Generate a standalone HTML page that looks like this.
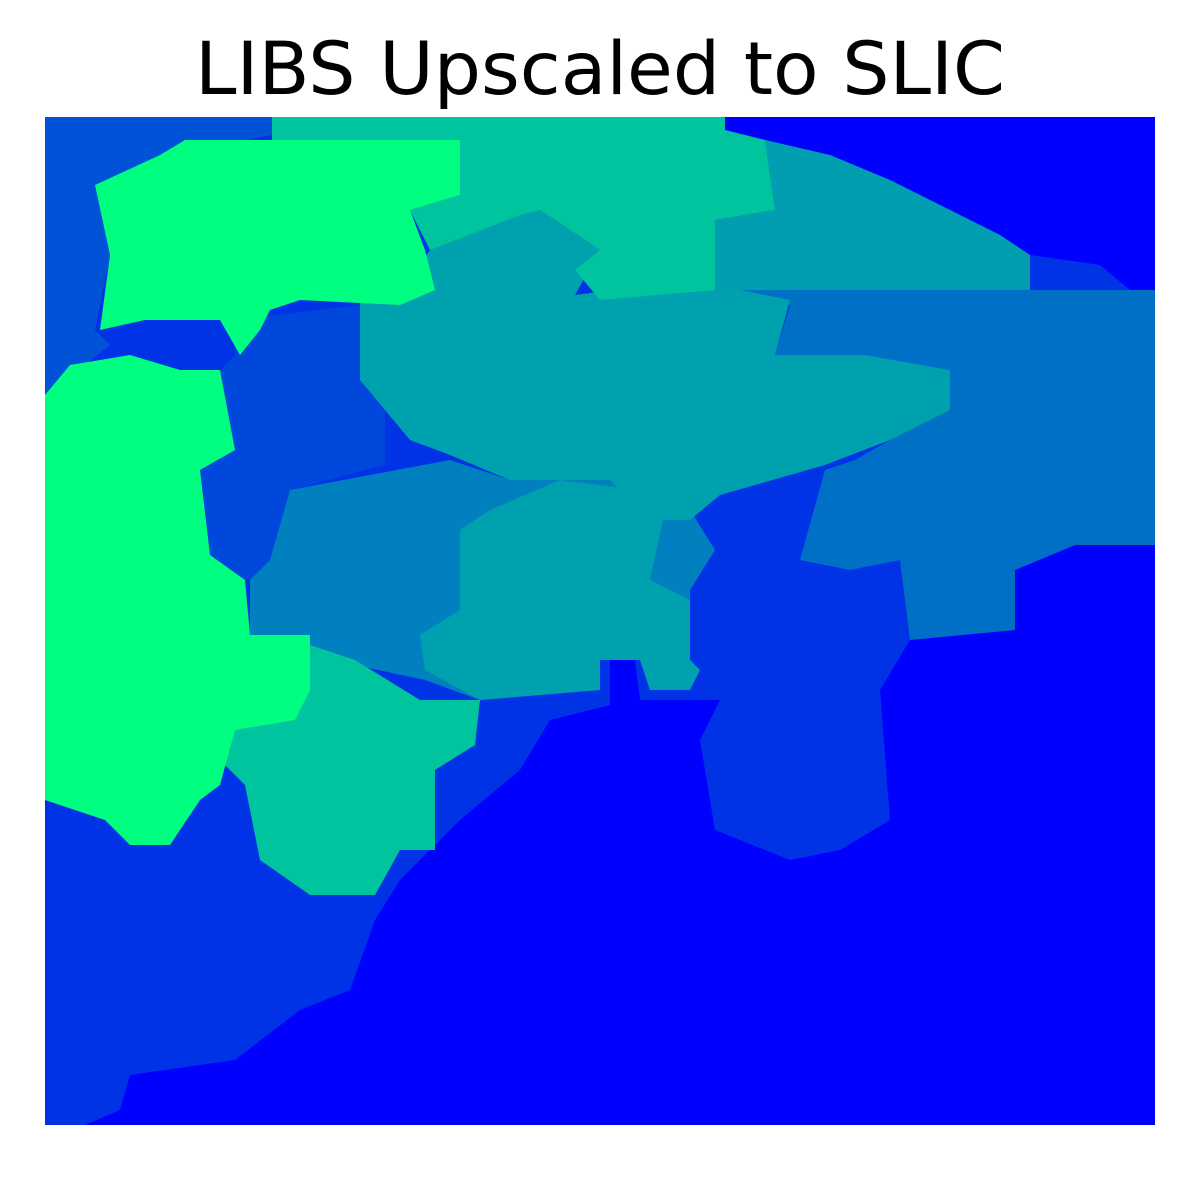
<!DOCTYPE html>
<html><head><meta charset="utf-8"><style>
html,body{margin:0;padding:0;background:#fff;width:1200px;height:1200px;overflow:hidden}
</style></head><body>
<svg id="chart" width="1200" height="1200" viewBox="0 0 1200 1200" xmlns="http://www.w3.org/2000/svg">
<text x="600" y="94" text-anchor="middle" font-family="DejaVu Sans, Liberation Sans, sans-serif" font-size="73" textLength="810" lengthAdjust="spacingAndGlyphs" fill="#000">LIBS Upscaled to SLIC</text>
<g id="map"></g>
</svg>
<script>
// segment values (winter colormap, 0 = blue, 1 = green)
const segmentNames = ["background","lower-band","left-top","mid-left","right-mid","center-mid","teal-upper","teal-right","teal-center","sea-top","sea-lower","green-top","green-left"];
const segmentValues = [0.0, 0.20, 0.32, 0.28, 0.44, 0.50, 0.63, 0.62, 0.63, 0.77, 0.77, 1.0, 1.0];
// outlines in image pixel coordinates
const segmentOutlines = [
 [[45,117],[1155,117],[1155,1125],[45,1125]],
 [[45,117],[725,117],[725,130],[765,140],[830,155],[890,180],[950,210],[1000,235],[1030,255],[1100,265],[1130,290],[1155,290],[1155,545],[1075,545],[1015,570],[1015,630],[910,640],[880,690],[890,820],[840,850],[790,860],[715,830],[700,740],[720,700],[640,700],[635,660],[610,660],[610,705],[550,720],[520,770],[460,820],[400,880],[375,920],[350,990],[300,1010],[235,1060],[130,1075],[120,1110],[85,1125],[45,1125]],
 [[45,117],[272,117],[272,135],[160,155],[95,185],[110,255],[95,330],[110,345],[60,385],[45,395]],
 [[235,320],[360,305],[360,380],[385,410],[385,465],[290,490],[270,560],[260,580],[235,580],[210,555],[200,470],[235,450],[220,370],[235,355]],
 [[690,290],[1155,290],[1155,545],[1075,545],[1015,570],[1015,630],[910,640],[900,560],[850,570],[800,560],[825,470],[855,460],[890,440],[950,395],[950,370],[865,355],[775,355],[790,305]],
 [[290,490],[450,460],[510,480],[610,480],[650,500],[690,510],[715,550],[690,590],[690,690],[650,690],[640,660],[600,660],[600,690],[480,700],[425,680],[355,665],[310,645],[250,635],[250,580],[270,560]],
 [[360,300],[400,290],[430,250],[410,210],[540,210],[600,250],[575,295],[690,280],[790,300],[775,355],[865,355],[950,370],[950,410],[890,440],[825,465],[720,495],[690,520],[650,520],[610,480],[510,480],[450,455],[410,440],[385,410],[360,380]],
 [[765,140],[830,155],[890,180],[950,210],[1000,235],[1030,255],[1030,290],[690,290],[715,220],[775,210]],
 [[460,530],[490,510],[560,480],[640,490],[665,510],[650,580],[690,600],[690,660],[700,670],[690,690],[650,690],[640,660],[600,660],[600,690],[480,700],[425,670],[420,635],[460,610]],
 [[272,117],[725,117],[725,130],[765,140],[775,210],[715,220],[715,290],[600,300],[575,270],[600,250],[540,210],[520,215],[430,250],[410,210],[460,195],[460,150],[400,140],[330,140],[272,140]],
 [[310,645],[355,660],[420,700],[480,700],[475,745],[435,770],[435,850],[400,850],[375,895],[310,895],[260,860],[245,785],[220,760],[235,720],[295,720]],
 [[95,185],[160,155],[185,140],[460,140],[460,195],[410,210],[425,250],[435,290],[400,305],[300,300],[270,310],[260,330],[240,355],[220,320],[145,320],[100,330],[110,255]],
 [[45,395],[70,365],[130,355],[180,370],[220,370],[235,450],[200,470],[210,555],[245,580],[250,635],[310,635],[310,690],[295,720],[235,730],[220,785],[200,800],[170,845],[130,845],[105,820],[45,800]]
];
function winter(v){
  const g=Math.round(255*v), b=Math.round(255*(1-0.5*v));
  return `rgb(0,${g},${b})`;
}
const map=document.getElementById('map');
segmentOutlines.forEach((pts,i)=>{
  const p=document.createElementNS('http://www.w3.org/2000/svg','polygon');
  p.setAttribute('points',pts.map(q=>q.join(',')).join(' '));
  p.setAttribute('fill',winter(segmentValues[i]));
  
  
  map.appendChild(p);
});
</script>
</body></html>
